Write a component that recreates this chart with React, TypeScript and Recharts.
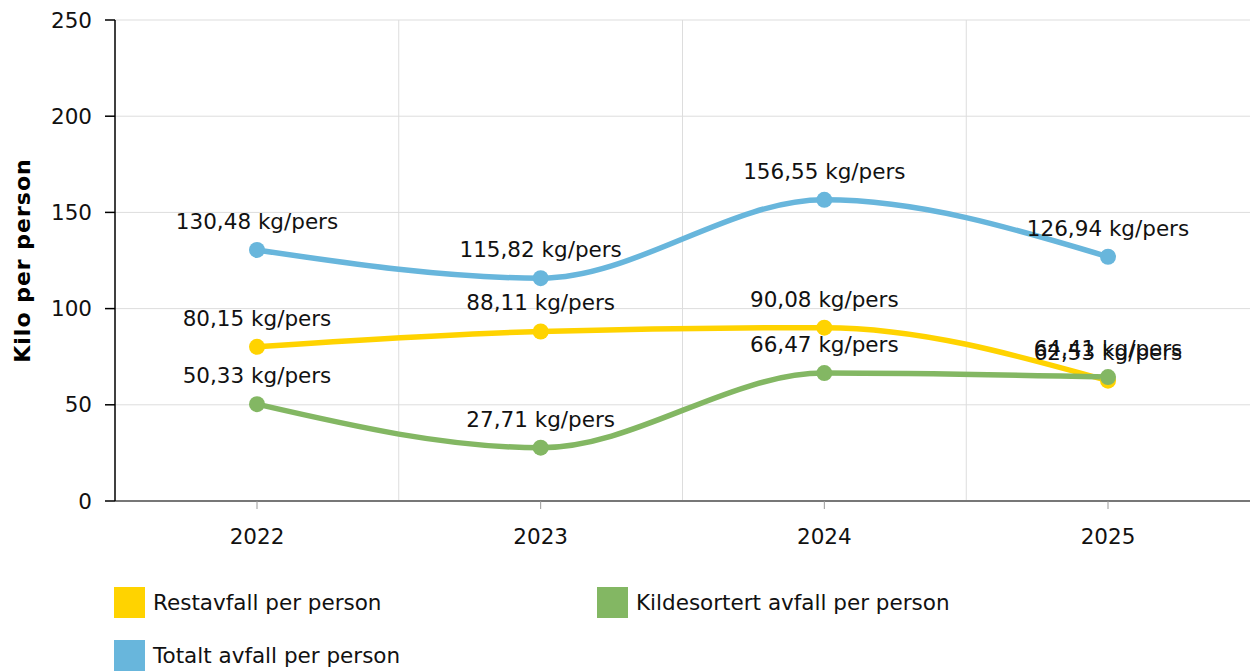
import { LineChart, Line, XAxis, YAxis, CartesianGrid, LabelList } from "recharts"

const years = ["2022", "2023", "2024", "2025"]
const restavfall = [80.15, 88.11, 90.08, 62.53]
const kildesortert = [50.33, 27.71, 66.47, 64.41]
const totalt = [130.48, 115.82, 156.55, 126.94]
const yTicks = [0, 50, 100, 150, 200, 250]

const series = [
  { key: "rest", name: "Restavfall per person", color: "#FFD300" },
  { key: "kilde", name: "Kildesortert avfall per person", color: "#83B763" },
  { key: "total", name: "Totalt avfall per person", color: "#68B6DC" },
]

const data = years.map((year, i) => ({
  year,
  rest: restavfall[i],
  kilde: kildesortert[i],
  total: totalt[i],
}))

const font = "'DejaVu Sans', Verdana, sans-serif"
const fs = 21.5

// 130.48 -> "130,48 kg/pers"
const fmt = (v: any) => `${Number(v).toFixed(2).replace(".", ",")} kg/pers`

export default function App() {
  return (
    <div style={{ position: "absolute", left: 0, top: 0, width: 1252, height: 672, fontFamily: font, background: "#fff" }}>
      <LineChart
        width={1252}
        height={560}
        data={data}
        margin={{ top: 20, right: 2, left: 0, bottom: 20 }}
        style={{ fontFamily: font }}
      >
        <CartesianGrid
          stroke="#dddddd"
          strokeWidth={1}
          verticalCoordinatesGenerator={({ offset }: any) =>
            [1, 2, 3].map((i) => offset.left + (offset.width * i) / 4)
          }
        />
        <XAxis
          dataKey="year"
          height={39}
          padding={{ left: 142, right: 142 }}
          axisLine={{ stroke: "#777", strokeWidth: 2 }}
          tickLine={{ stroke: "#999" }}
          tickSize={8}
          tickMargin={20}
          tick={{ fill: "#111", fontSize: fs }}
        />
        <YAxis
          width={115}
          domain={[0, 250]}
          ticks={yTicks}
          axisLine={{ stroke: "#000", strokeWidth: 1.5 }}
          tickLine={{ stroke: "#000", strokeWidth: 1.5 }}
          tickSize={10}
          tickMargin={13}
          tick={{ fill: "#111", fontSize: fs }}
          label={{
            value: "Kilo per person",
            angle: -90,
            position: "insideLeft",
            offset: 22,
            style: { textAnchor: "middle", fontWeight: "bold", fontSize: 22, letterSpacing: 1, fill: "#000" },
          }}
        />
        {series.map((s) => (
          <Line
            key={s.key}
            type="monotone"
            dataKey={s.key}
            name={s.name}
            stroke={s.color}
            strokeWidth={5.5}
            dot={{ r: 8, fill: s.color, stroke: "none" }}
            activeDot={false}
            isAnimationActive={false}
          >
            <LabelList
              dataKey={s.key}
              position="top"
              offset={21}
              formatter={fmt}
              style={{ fontSize: fs, fill: "#111" }}
            />
          </Line>
        ))}
      </LineChart>

      <div style={{ position: "absolute", left: 114, top: 587, width: 1000, display: "flex", flexWrap: "wrap", rowGap: 22 }}>
        {series.map((s) => (
          <div key={s.key} style={{ width: 483, display: "flex", alignItems: "center", height: 31 }}>
            <div style={{ width: 31, height: 31, background: s.color, marginRight: 8 }} />
            <span style={{ fontSize: fs, color: "#111" }}>{s.name}</span>
          </div>
        ))}
      </div>
    </div>
  )
}
